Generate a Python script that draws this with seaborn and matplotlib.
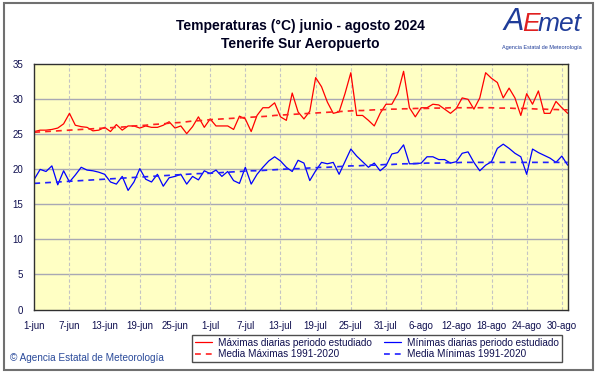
import matplotlib.pyplot as plt
import pandas as pd
import seaborn as sns

# Datos diarios 1-jun ... 31-ago 2024 (92 dias)
tmax = [25.4, 25.6, 25.6, 25.7, 25.9, 26.5, 28.0, 26.3, 26.1, 26.0,
        25.5, 25.6, 26.0, 25.4, 26.4, 25.6, 26.2, 26.2, 25.9, 26.2,
        26.0, 26.0, 26.3, 26.8, 25.9, 26.2, 25.1, 26.1, 27.5, 26.0,
        27.2, 26.2, 26.2, 26.2, 25.7, 27.6, 27.2, 25.4, 27.7, 28.8,
        28.8, 29.5, 27.5, 27.0, 30.9, 28.2, 27.2, 28.3, 33.1, 31.8,
        29.6, 28.0, 28.2, 30.8, 33.8, 27.7, 27.7, 27.0, 26.2, 28.0,
        29.3, 29.3, 30.8, 34.0, 28.8, 27.5, 28.8, 28.8, 29.3, 29.2,
        28.6, 28.0, 28.7, 30.2, 30.0, 28.6, 30.2, 33.8, 33.0, 32.4,
        30.2, 31.6, 30.2, 27.7, 30.8, 29.3, 31.2, 28.0, 28.0, 29.7,
        28.8, 28.0]
tmin = [18.6, 20.0, 19.7, 20.5, 17.8, 19.8, 18.2, 19.2, 20.3, 19.9,
        19.8, 19.6, 19.3, 18.2, 17.9, 19.0, 17.0, 18.2, 20.1, 18.6,
        18.2, 19.3, 17.6, 18.8, 19.0, 19.3, 17.9, 19.0, 18.5, 19.8,
        19.4, 19.9, 19.0, 19.7, 18.4, 18.0, 20.3, 17.9, 19.3, 20.3,
        21.2, 21.8, 21.2, 20.3, 19.7, 21.3, 20.9, 18.4, 19.8, 21.0,
        20.8, 21.0, 19.3, 21.1, 22.9, 21.9, 21.1, 20.3, 20.9, 19.8,
        20.5, 22.2, 22.4, 23.5, 20.8, 20.8, 20.9, 21.8, 21.8, 21.4,
        21.4, 20.9, 21.1, 22.3, 22.5, 21.0, 19.8, 20.6, 21.1, 23.0,
        23.6, 23.0, 22.3, 21.8, 19.3, 22.9, 22.4, 22.0, 21.6, 21.0,
        21.9, 20.6]
media_max = [25.3, 25.35, 25.4, 25.45, 25.5, 25.55, 25.6, 25.65, 25.7, 25.75,
             25.8, 25.85, 25.9, 25.95, 26.0, 26.05, 26.1, 26.2, 26.25, 26.3,
             26.4, 26.45, 26.5, 26.6, 26.65, 26.7, 26.8, 26.9, 26.95, 27.0,
             27.1, 27.15, 27.2, 27.25, 27.3, 27.35, 27.4, 27.45, 27.5, 27.55,
             27.6, 27.7, 27.75, 27.8, 27.85, 27.9, 27.95, 28.0, 28.05, 28.1,
             28.15, 28.2, 28.25, 28.3, 28.35, 28.4, 28.4, 28.45, 28.5, 28.5,
             28.55, 28.6, 28.6, 28.65, 28.65, 28.7, 28.7, 28.7, 28.75, 28.75,
             28.75, 28.8, 28.8, 28.8, 28.8, 28.8, 28.8, 28.8, 28.8, 28.75,
             28.75, 28.75, 28.7, 28.7, 28.7, 28.65, 28.6, 28.6, 28.55, 28.55,
             28.5, 28.5]
media_min = [18.0, 18.05, 18.1, 18.15, 18.2, 18.25, 18.3, 18.35, 18.4, 18.45,
             18.5, 18.55, 18.6, 18.65, 18.7, 18.75, 18.8, 18.85, 18.9, 18.95,
             19.0, 19.05, 19.1, 19.15, 19.2, 19.25, 19.3, 19.35, 19.4, 19.4,
             19.45, 19.5, 19.55, 19.6, 19.65, 19.7, 19.75, 19.8, 19.8, 19.85,
             19.9, 19.95, 20.0, 20.05, 20.1, 20.1, 20.15, 20.2, 20.25, 20.3,
             20.3, 20.35, 20.4, 20.45, 20.5, 20.5, 20.55, 20.6, 20.6, 20.65,
             20.7, 20.7, 20.75, 20.8, 20.8, 20.85, 20.85, 20.9, 20.9, 20.9,
             20.95, 20.95, 20.95, 21.0, 21.0, 21.0, 21.0, 21.0, 21.0, 21.0,
             21.0, 21.0, 21.0, 21.0, 21.0, 21.0, 21.0, 21.0, 21.0, 21.0,
             21.0, 21.0]
etiquetas = ["1-jun", "7-jun", "13-jun", "19-jun", "25-jun", "1-jul", "7-jul", "13-jul",
             "19-jul", "25-jul", "31-jul", "6-ago", "12-ago", "18-ago", "24-ago", "30-ago"]

df = pd.DataFrame({"dia": range(len(tmax)), "tmax": tmax, "tmin": tmin,
                   "media_max": media_max, "media_min": media_min})

sns.set_style("white")
plt.rcParams["font.family"] = ["Liberation Sans", "DejaVu Sans"]
navy = "#101050"

fig = plt.figure(figsize=(6.01, 3.74), dpi=100)
ax = fig.add_axes([34.3 / 601, 1 - 309.5 / 374, (567.7 - 34.3) / 601, (309.5 - 64.3) / 374])
ax.set_facecolor("#ffffc4")

sns.lineplot(df, x="dia", y="tmax", color="#ff0000", lw=0.9, ax=ax, label="Máximas diarias periodo estudiado")
sns.lineplot(df, x="dia", y="media_max", color="#ff2020", lw=1.2, ax=ax,
             label="Media Máximas 1991-2020").lines[-1].set_dashes((3.5, 3))
sns.lineplot(df, x="dia", y="tmin", color="#0000ff", lw=0.9, ax=ax, label="Mínimas diarias periodo estudiado")
sns.lineplot(df, x="dia", y="media_min", color="#2020ff", lw=1.2, ax=ax,
             label="Media Mínimas 1991-2020").lines[-1].set_dashes((3.5, 3))

ax.set_xlim(0, 91)
ax.set_ylim(0, 35)
ax.set_xticks(range(0, 91, 6))
ax.set_xticklabels(etiquetas)
ax.set_yticks(range(0, 36, 5))
ax.set_xlabel("")
ax.set_ylabel("")
ax.tick_params(axis="both", labelsize=7, colors=navy, length=0, pad=8)
for y in range(5, 35, 5):
    ax.axhline(y, color="#a8a8b4", lw=1, zorder=0)
for x in range(6, 91, 6):
    ax.axvline(x, color="#c4c4c4", lw=0.8, ls=(0, (3, 2)), zorder=0)
for s in ax.spines.values():
    s.set_color("#303030")
    s.set_linewidth(1)

handles, labels = ax.get_legend_handles_labels()
ax.get_legend().remove()
leg = fig.legend(handles, labels, loc="lower left", ncol=2, mode="expand",
                 bbox_to_anchor=(187 / 601, 1 - 367 / 374, 380 / 601, 30 / 374),
                 fontsize=7.2, frameon=True, fancybox=False, edgecolor="#202020",
                 handlelength=1.7, handletextpad=0.6, borderpad=0.3, labelspacing=0.15,
                 columnspacing=1.0)
for t in leg.get_texts():
    t.set_color(navy)
leg.get_frame().set_linewidth(1)

fig.text(300 / 601, 1 - 26 / 374, "Temperaturas (°C) junio - agosto 2024", ha="center", va="center",
         fontsize=10, fontweight="bold", color="#000020", family=["Liberation Sans Narrow", "Liberation Sans"])
fig.text(300 / 601, 1 - 44 / 374, "Tenerife Sur Aeropuerto", ha="center", va="center",
         fontsize=10, fontweight="bold", color="#000020", family=["Liberation Sans Narrow", "Liberation Sans"])
fig.text(10 / 601, 1 - 358 / 374, "© Agencia Estatal de Meteorología", ha="left", va="center",
         fontsize=7.2, color="#2a4a9a")

# logo AEMET (texto)
fig.text(503 / 601, 1 - 22 / 374, "A", fontsize=22, style="italic", color="#1f3c99", va="center", ha="left")
fig.text(522 / 601, 1 - 24 / 374, "E", fontsize=19, style="italic", color="#e02020", va="center", ha="left")
fig.text(538 / 601, 1 - 24 / 374, "met", fontsize=19, style="italic", color="#1f3c99", va="center", ha="left")
fig.text(542 / 601, 1 - 48 / 374, "Agencia Estatal de Meteorología", fontsize=4, color="#1f3c99",
         va="center", ha="center")

fig.patches.append(plt.Rectangle((4 / 601, 1 - 370 / 374), 589 / 601, 367 / 374, transform=fig.transFigure,
                                 fill=False, edgecolor="#707070", lw=1.5))

plt.savefig("out.png", dpi=100)
plt.close()
